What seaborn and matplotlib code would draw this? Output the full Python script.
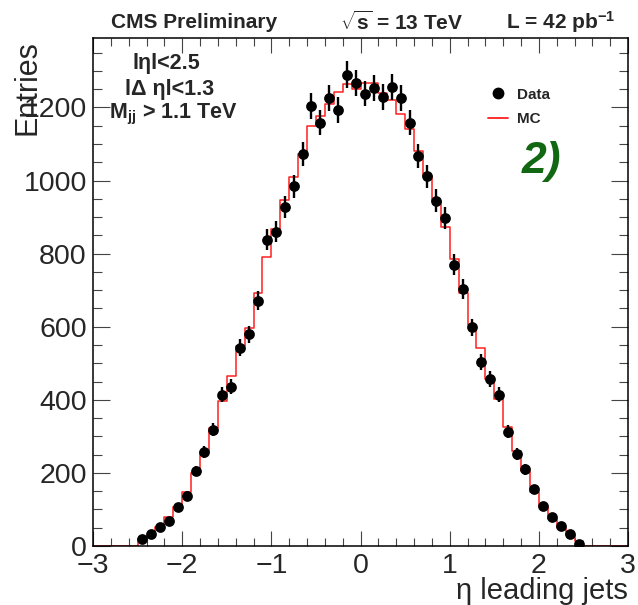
import numpy as np
import pandas as pd
import matplotlib
matplotlib.use("Agg")
import matplotlib.pyplot as plt
from matplotlib.lines import Line2D
from matplotlib.ticker import MultipleLocator
import seaborn as sns

# Binning in eta of the two leading jets
bin_edges = np.round(np.arange(-3.0, 3.0001, 0.1), 2)
bin_centers = np.round(bin_edges[:-1] + 0.05, 2)

# Data counts per bin, |eta| < 2.5
data_centers = np.round(np.arange(-2.45, 2.4501, 0.1), 2)
data_counts = [18, 32, 53, 69, 108, 138, 205, 257, 318, 414,
               436, 543, 579, 671, 838, 860, 927, 984, 1073, 1204,
               1158, 1226, 1193, 1290, 1268, 1238, 1254, 1229, 1257, 1226,
               1158, 1066, 1012, 945, 897, 770, 703, 598, 503, 457,
               414, 313, 251, 210, 155, 110, 78, 56, 32, 5]

# Simulation normalised to data
mc_counts = [0, 0, 0, 0, 0,
             18, 30, 53, 79, 108, 149, 199, 258, 322, 398,
             466, 548, 596, 692, 791, 868, 948, 1010, 1073, 1149,
             1176, 1210, 1242, 1263, 1251, 1266, 1266, 1240, 1220, 1181,
             1140, 1080, 1012, 943, 872, 785, 692, 605, 541, 457,
             403, 325, 260, 204, 147, 108, 73, 50, 30, 15,
             0, 0, 0, 0, 0]

x_ticks = [-3, -2, -1, 0, 1, 2, 3]
y_ticks = [0, 200, 400, 600, 800, 1000, 1200]

sns.set_style("ticks")
plt.rcParams["font.family"] = ["Liberation Sans", "DejaVu Sans"]
plt.rcParams["mathtext.fontset"] = "custom"
plt.rcParams["mathtext.rm"] = "Liberation Sans"
plt.rcParams["mathtext.bf"] = "Liberation Sans:bold"
plt.rcParams["mathtext.it"] = "Liberation Sans:italic"

fig = plt.figure(figsize=(6.38, 6.05), dpi=100)
ax = fig.add_axes([93 / 638, 1 - 546 / 605, 535 / 638, 508 / 605])

mc_df = pd.DataFrame({"eta": bin_centers, "n": mc_counts})
sns.histplot(data=mc_df, x="eta", weights="n", bins=bin_edges.tolist(),
             element="step", fill=False, color="#ff2020", linewidth=1.1,
             ax=ax)

data_df = pd.DataFrame({"eta": data_centers, "n": data_counts})
ax.errorbar(data_df["eta"], data_df["n"], yerr=np.sqrt(data_df["n"]),
            fmt="none", ecolor="black", elinewidth=1.7, capsize=0, zorder=3)
sns.scatterplot(data=data_df, x="eta", y="n", color="black", s=60,
                edgecolor="black", linewidth=0, zorder=4, ax=ax)

ax.set_xlim(-3, 3)
ax.set_ylim(0, 1390)
ax.set_xticks(x_ticks)
ax.set_xticklabels([f"\u2212{abs(v)}" if v < 0 else str(v) for v in x_ticks])
ax.set_yticks(y_ticks)
ax.xaxis.set_minor_locator(MultipleLocator(0.2))
ax.yaxis.set_minor_locator(MultipleLocator(50))
ax.set_xlabel("")
ax.set_ylabel("")

for side in ax.spines.values():
    side.set_visible(True)
    side.set_linewidth(1.1)
    side.set_color("black")

ax.tick_params(axis="both", which="both", direction="in", top=True,
               right=True, width=0.8, color="#444444", labelsize=20.5)
ax.tick_params(axis="y", which="major", length=12.2, pad=4.5)
ax.tick_params(axis="y", which="minor", length=6.2)
ax.tick_params(axis="x", which="major", length=11, pad=5)
ax.tick_params(axis="x", which="minor", length=5.5)

# Header
fig.text(111 / 638, 1 - 22 / 605, "CMS Preliminary", fontsize=15,
         fontweight="bold", ha="left", va="center")
fig.text(340 / 638, 1 - 22 / 605, r"$\sqrt{\mathbf{s}}$ = 13 TeV",
         fontsize=15, fontweight="bold", ha="left", va="center")
fig.text(615 / 638, 1 - 22 / 605, r"L = 42 pb$^{\mathbf{-1}}$",
         fontsize=15, fontweight="bold", ha="right", va="center")

# Axis titles
fig.text(28 / 638, 1 - 40 / 605, "Entries", fontsize=22, rotation=90,
         ha="center", va="top")
fig.text(628 / 638, 1 - 591 / 605, "\u03b7 leading jets", fontsize=21,
         ha="right", va="center")

# Selection cuts
cut_kw = dict(fontsize=15.5, fontweight="bold", ha="center", va="center",
              transform=fig.transFigure)
fig.text(166 / 638, 1 - 64 / 605, "l\u03b7l<2.5", **cut_kw)
fig.text(170 / 638, 1 - 89 / 605, "l\u0394 \u03b7l<1.3", **cut_kw)
fig.text(173 / 638, 1 - 114 / 605, r"M$_{\mathbf{jj}}$ > 1.1 TeV", **cut_kw)

# Legend
handles = [
    Line2D([], [], linestyle="none", marker="o", color="black", markersize=7.5),
    Line2D([], [], color="#ff2020", linewidth=1.3),
]
ax.legend(handles, ["Data", "MC"], loc="center left",
          bbox_to_anchor=(0.712, 0.864), frameon=False,
          prop={"weight": "bold", "size": 11}, handlelength=1.3,
          handletextpad=0.6, labelspacing=0.7)

fig.text(542 / 638, 1 - 162 / 605, "2)", fontsize=32, fontweight="bold",
         fontstyle="italic", color="#126812", ha="center", va="center")

fig.savefig("out.png", dpi=100)
